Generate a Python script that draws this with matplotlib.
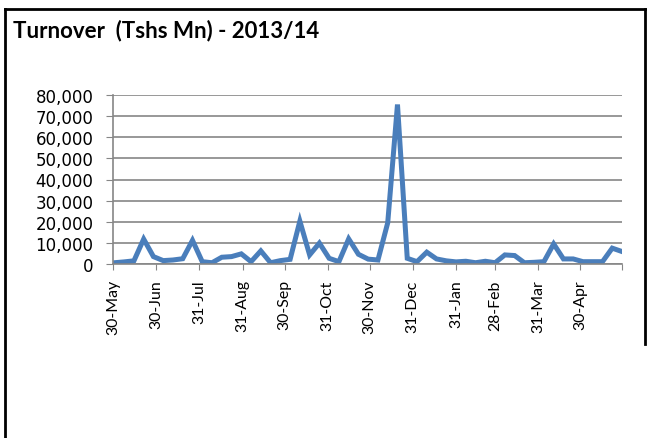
import numpy as np
import pandas as pd
import matplotlib
matplotlib.use("Agg")
from matplotlib import pyplot as plt
from matplotlib.lines import Line2D
from matplotlib.ticker import FuncFormatter

# weekly turnover, Tshs Mn
week_start = "2013-05-31"
turnover = [600, 1000, 1500, 11800, 3500, 1600, 1900, 2500, 11200, 1100,
            600, 3200, 3500, 4800, 1100, 6200, 600, 1600, 2200, 20300,
            4300, 9900, 2700, 1100, 11900, 4600, 2300, 1900, 19500, 75500,
            2700, 1100, 5600, 2400, 1500, 1000, 1300, 600, 1300, 600,
            4300, 4000, 600, 800, 1100, 9500, 2400, 2400, 1100, 1100,
            1100, 7500, 5900]
tick_dates = ["2013-05-30", "2013-06-30", "2013-07-31", "2013-08-31",
              "2013-09-30", "2013-10-31", "2013-11-30", "2013-12-31",
              "2014-01-31", "2014-02-28", "2014-03-31", "2014-04-30",
              "2014-05-30"]
tick_labels = ["30-May", "30-Jun", "31-Jul", "31-Aug", "30-Sep", "31-Oct",
               "30-Nov", "31-Dec", "31-Jan", "28-Feb", "31-Mar", "30-Apr", ""]

plt.rcParams["font.family"] = ["Lato", "DejaVu Sans"]

dates = pd.date_range(week_start, periods=len(turnover), freq="7D")
ticks = pd.to_datetime(tick_dates)

fig = plt.figure(figsize=(6.62, 4.39), dpi=100)
ax = fig.add_axes([113/662, 1 - 265/439, 509/662, 169/439])

ax.plot(dates, turnover, color="#4A7EBB", lw=3.6, solid_joinstyle="miter")
ax.set_xlim(ticks[0], ticks[-1])
ax.set_ylim(0, 80000)
ax.set_yticks(np.arange(0, 80001, 10000))
ax.yaxis.set_major_formatter(FuncFormatter(lambda v, p: f"{v:,.0f}"))
for lbl in ax.get_yticklabels():
    lbl.set_fontfamily("DejaVu Sans")
ax.tick_params(axis="y", labelsize=12, length=5, color="#868686", pad=9)
ax.set_xticks(ticks)
ax.set_xticklabels(tick_labels, rotation=90, fontsize=11.4)
ax.tick_params(axis="x", length=4, color="#868686", pad=7)
ax.grid(axis="y", color="#868686", lw=1.2)
ax.set_axisbelow(True)
for s in ["top", "right"]:
    ax.spines[s].set_visible(False)
for s in ["left", "bottom"]:
    ax.spines[s].set_color("#868686")
    ax.spines[s].set_linewidth(1.2)

fig.text(13/662, 1 - 37.5/439, "Turnover  (Tshs Mn) - 2013/14",
         fontsize=16, fontweight="bold", va="baseline")

# chart frame
fig.add_artist(Line2D([5/662, 5/662], [0, 1 - 10/439], color="black", lw=2))
fig.add_artist(Line2D([5/662, 645/662], [1 - 10/439, 1 - 10/439], color="black", lw=2))
fig.add_artist(Line2D([645/662, 645/662], [1 - 10/439, 1 - 345/439], color="black", lw=2))

fig.savefig("out.png", dpi=100)
